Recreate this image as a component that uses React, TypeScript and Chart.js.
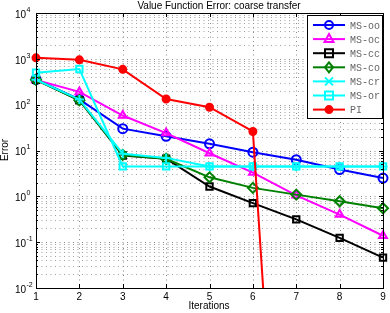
import React, { useEffect, useRef } from "react";
import { Chart, registerables } from "chart.js";

Chart.register(...registerables);

const iterations = ["1", "2", "3", "4", "5", "6", "7", "8", "9"];
const msOO = [354, 130, 30, 20.4, 14, 9.2, 6.3, 3.85, 2.5];
const msOC = [345, 190, 58, 24, 8.7, 3.3, 1.05, 0.4, 0.138];
const msCC = [350, 125, 7.8, 6.6, 1.64, 0.71, 0.315, 0.124, 0.046];
const msCO = [350, 125, 8.0, 6.6, 2.6, 1.53, 1.09, 0.78, 0.55];
const msCR = [350, 130, 8.5, 6.9, 4.5, 4.5, 4.5, 4.5, 4.5];
const msOR = [500, 600, 4.5, 4.5, 4.5, 4.5, 4.5, 4.5, 4.5];
const piErr = [1050, 950, 590, 133, 88, 26, 1e-13, null, null];

const seriesNames = ["MS-oo", "MS-oc", "MS-cc", "MS-co", "MS-cr", "MS-or", "PI"];
const yTickExponents = ["4", "3", "2", "1", "0", "-1", "-2"];
const titleText = "Value Function Error: coarse transfer";
const xLabel = "Iterations";
const yLabel = "Error";

const styles = [
  { color: "#0000ff", marker: "circle", fill: false },
  { color: "#ff00ff", marker: "triangle", fill: false },
  { color: "#000000", marker: "rect", fill: false },
  { color: "#008000", marker: "rectRot", fill: false },
  { color: "#00ffff", marker: "cross", fill: false },
  { color: "#00ffff", marker: "rect", fill: false },
  { color: "#ff0000", marker: "circle", fill: true },
];

const allSeries = [msOO, msOC, msCC, msCO, msCR, msOR, piErr];

const FONT = '"Liberation Sans", Arial, sans-serif';

function drawMarker(ctx: CanvasRenderingContext2D, type: string, x: number, y: number, color: string, fill: boolean) {
  ctx.save();
  ctx.strokeStyle = color;
  ctx.fillStyle = color;
  ctx.lineWidth = 2;
  ctx.beginPath();
  const r = 4;
  if (type === "circle") {
    ctx.arc(x, y, fill ? 3.5 : r, 0, Math.PI * 2);
  } else if (type === "triangle") {
    ctx.moveTo(x, y - r - 1);
    ctx.lineTo(x + r + 0.5, y + r - 1);
    ctx.lineTo(x - r - 0.5, y + r - 1);
    ctx.closePath();
  } else if (type === "rect") {
    ctx.rect(x - r, y - r, 2 * r, 2 * r);
  } else if (type === "rectRot") {
    ctx.moveTo(x, y - r - 1);
    ctx.lineTo(x + r, y);
    ctx.lineTo(x, y + r + 1);
    ctx.lineTo(x - r, y);
    ctx.closePath();
  } else if (type === "cross") {
    ctx.moveTo(x - r, y - r);
    ctx.lineTo(x + r, y + r);
    ctx.moveTo(x + r, y - r);
    ctx.lineTo(x - r, y + r);
  }
  if (fill) ctx.fill();
  ctx.stroke();
  ctx.restore();
}

const decorPlugin = {
  id: "matlabDecor",
  beforeDraw(chart: any) {
    const ctx = chart.ctx;
    ctx.save();
    ctx.fillStyle = "#ffffff";
    ctx.fillRect(0, 0, chart.width, chart.height);
    ctx.restore();
  },
  beforeDatasetsDraw(chart: any) {
    const ctx: CanvasRenderingContext2D = chart.ctx;
    const area = chart.chartArea;
    const xs = chart.scales.x;
    const ys = chart.scales.y;
    ctx.save();
    ctx.lineWidth = 1;
    ctx.setLineDash([1, 3.5]);
    // horizontal grid
    for (let e = -2; e <= 4; e++) {
      for (let m = 1; m <= 9; m++) {
        if (e === 4 && m > 1) break;
        const py = Math.round(ys.getPixelForValue(m * Math.pow(10, e))) + 0.5;
        if (py <= area.top + 1 || py >= area.bottom - 1) continue;
        ctx.strokeStyle = m === 1 ? "#8a8a8a" : "#a0a0a0";
        ctx.beginPath();
        ctx.moveTo(area.left + 1, py);
        ctx.lineTo(area.right, py);
        ctx.stroke();
      }
    }
    // vertical grid
    ctx.strokeStyle = "#8a8a8a";
    iterations.forEach((_, i) => {
      const px = Math.round(xs.getPixelForValue(i)) + 0.5;
      if (px <= area.left + 1 || px >= area.right - 1) return;
      ctx.beginPath();
      ctx.moveTo(px, area.top + 1);
      ctx.lineTo(px, area.bottom);
      ctx.stroke();
    });
    ctx.restore();
  },
  afterDraw(chart: any) {
    const ctx: CanvasRenderingContext2D = chart.ctx;
    const area = chart.chartArea;
    const xs = chart.scales.x;
    const ys = chart.scales.y;
    ctx.save();
    // box
    ctx.strokeStyle = "#000";
    ctx.lineWidth = 1;
    ctx.strokeRect(Math.round(area.left) + 0.5, Math.round(area.top) + 0.5, Math.round(area.right - area.left), Math.round(area.bottom - area.top));
    // inward ticks
    ctx.beginPath();
    iterations.forEach((_, i) => {
      const px = Math.round(xs.getPixelForValue(i)) + 0.5;
      ctx.moveTo(px, area.bottom);
      ctx.lineTo(px, area.bottom - 4);
      ctx.moveTo(px, area.top);
      ctx.lineTo(px, area.top + 4);
    });
    for (let e = -2; e <= 4; e++) {
      for (let m = 1; m <= 9; m++) {
        if (e === 4 && m > 1) break;
        const py = Math.round(ys.getPixelForValue(m * Math.pow(10, e))) + 0.5;
        const len = m === 1 ? 4 : 2;
        ctx.moveTo(area.left, py);
        ctx.lineTo(area.left + len, py);
        ctx.moveTo(area.right, py);
        ctx.lineTo(area.right - len, py);
      }
    }
    ctx.stroke();

    // x tick labels
    ctx.fillStyle = "#000";
    ctx.font = "10px " + FONT;
    ctx.textAlign = "center";
    ctx.textBaseline = "middle";
    iterations.forEach((lab, i) => {
      ctx.fillText(lab, xs.getPixelForValue(i), area.bottom + 9);
    });
    // y tick labels
    yTickExponents.forEach((ex) => {
      const py = ys.getPixelForValue(Math.pow(10, Number(ex)));
      ctx.font = "10px " + FONT;
      ctx.textAlign = "left";
      ctx.textBaseline = "middle";
      ctx.fillText("10", 15, py + 2);
      ctx.font = "7px " + FONT;
      ctx.fillText(ex, 26.5, py - 3);
    });
    // title
    ctx.font = "10px " + FONT;
    ctx.textAlign = "center";
    ctx.textBaseline = "middle";
    ctx.fillText(titleText, 219, 6);
    // x label
    ctx.fillText(xLabel, 209, 306);
    // y label
    ctx.save();
    ctx.translate(5, 150);
    ctx.rotate(-Math.PI / 2);
    ctx.fillText(yLabel, 0, 0);
    ctx.restore();

    // legend
    const lx = 307, ly = 15, lw = 75, lh = 103;
    ctx.fillStyle = "#fff";
    ctx.fillRect(lx, ly, lw, lh);
    ctx.strokeStyle = "#000";
    ctx.lineWidth = 1;
    ctx.strokeRect(lx + 0.5, ly + 0.5, lw, lh);
    ctx.save();
    ctx.beginPath();
    ctx.rect(lx, ly, lw, lh);
    ctx.clip();
    seriesNames.forEach((name, i) => {
      const y = 25 + i * 14.1;
      const st = styles[i];
      ctx.strokeStyle = st.color;
      ctx.lineWidth = 2;
      ctx.beginPath();
      ctx.moveTo(313, y);
      ctx.lineTo(345, y);
      ctx.stroke();
      drawMarker(ctx, st.marker, 329, y, st.color, st.fill);
      ctx.fillStyle = "#666";
      ctx.font = '10px "Liberation Mono", "DejaVu Sans Mono", monospace';
      ctx.textAlign = "left";
      ctx.textBaseline = "middle";
      ctx.fillText(name, 350, y + 1);
    });
    ctx.restore();
    ctx.restore();
  },
};

export default function App() {
  const ref = useRef<HTMLCanvasElement | null>(null);
  useEffect(() => {
    document.body.style.margin = "0";
    const canvas = ref.current;
    if (!canvas) return;
    const datasets = allSeries.map((data, i) => ({
      label: seriesNames[i],
      data,
      borderColor: styles[i].color,
      backgroundColor: styles[i].fill ? styles[i].color : "rgba(0,0,0,0)",
      pointStyle: styles[i].marker as any,
      pointBorderColor: styles[i].color,
      pointBackgroundColor: styles[i].fill ? styles[i].color : "rgba(0,0,0,0)",
      pointRadius: styles[i].marker === "rectRot" ? 5 : styles[i].fill ? 3.5 : 4.5,
      pointBorderWidth: 2,
      borderWidth: 2,
      tension: 0,
      spanGaps: false,
      order: 10 - i,
    }));
    const chart = new Chart(canvas, {
      type: "line",
      data: { labels: iterations, datasets },
      options: {
        animation: false,
        responsive: false,
        maintainAspectRatio: false,
        devicePixelRatio: 1,
        layout: { padding: { left: 36, right: 7, top: 13, bottom: 25 } },
        plugins: { legend: { display: false }, tooltip: { enabled: false }, title: { display: false } },
        scales: {
          x: {
            type: "category",
            offset: false,
            ticks: { display: false },
            grid: { display: false, drawTicks: false },
            border: { display: false },
          },
          y: {
            type: "logarithmic",
            min: 0.01,
            max: 10000,
            ticks: { display: false },
            grid: { display: false, drawTicks: false },
            border: { display: false },
          },
        },
      },
      plugins: [decorPlugin],
    });
    return () => chart.destroy();
  }, []);
  return (
    <div style={{ position: "fixed", left: 0, top: 0, width: 390, height: 313 }}>
      <canvas ref={ref} width={390} height={313} style={{ width: 390, height: 313 }} />
    </div>
  );
}
